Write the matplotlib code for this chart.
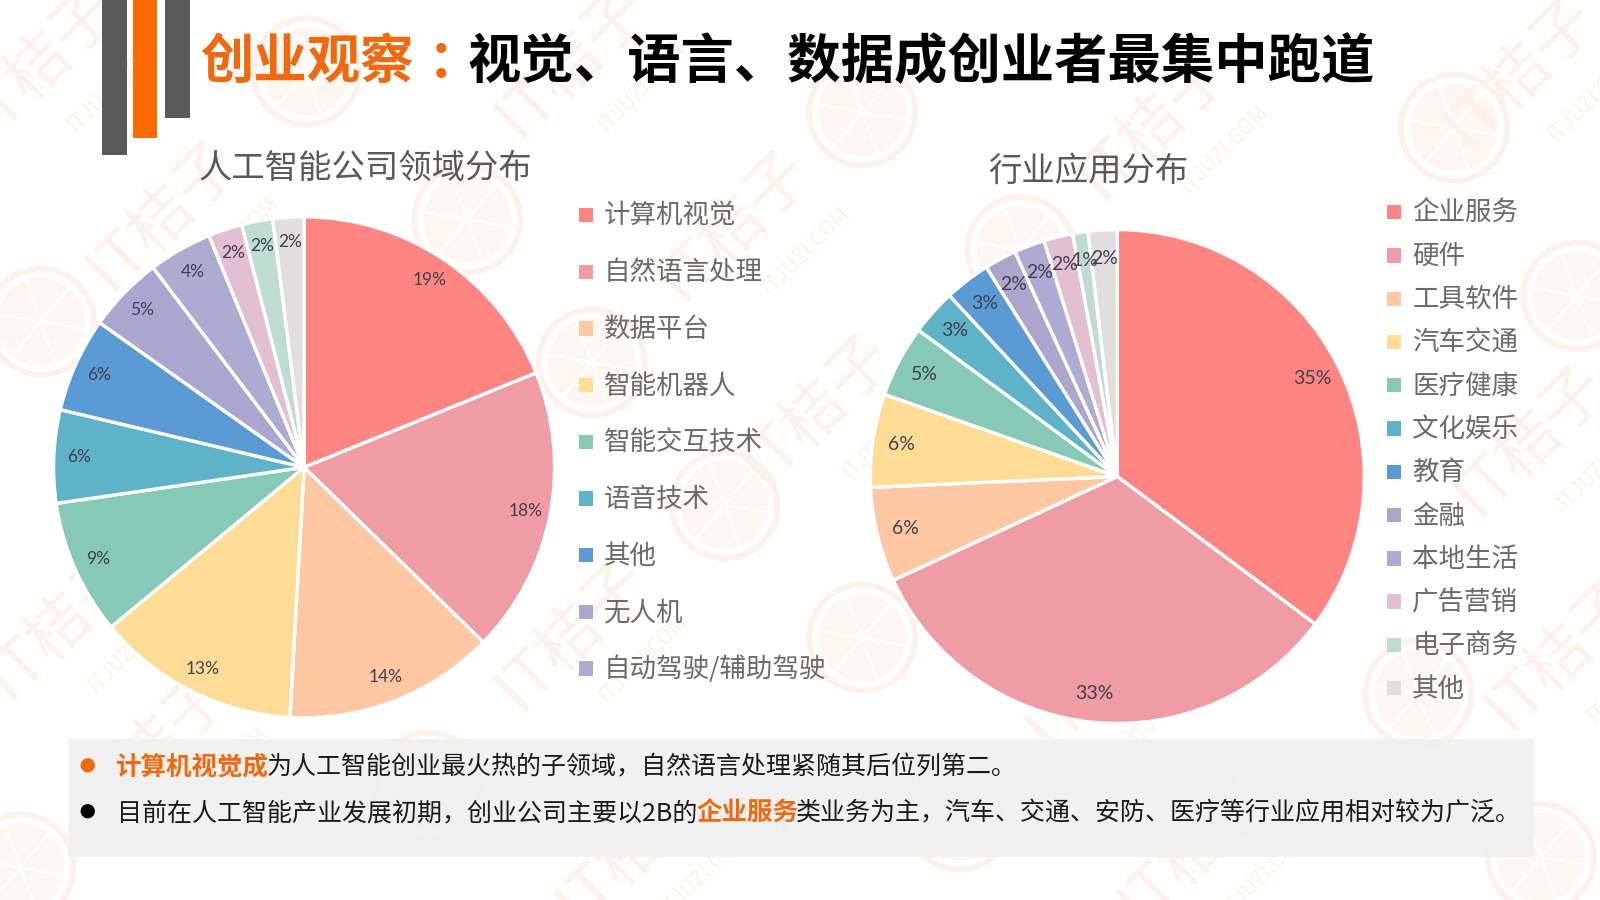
import numpy as np
import matplotlib
matplotlib.use("Agg")
import matplotlib.pyplot as plt
from matplotlib.patches import Rectangle, Circle

plt.rcParams['font.family'] = ['Noto Sans CJK SC', 'DejaVu Sans']

# left pie
field_labels = ['计算机视觉', '自然语言处理', '数据平台', '智能机器人', '智能交互技术', '语音技术', '其他', '无人机', '自动驾驶/辅助驾驶']
field_values = [18.85, 18.45, 13.6, 13.1, 8.7, 6.0, 6.1, 4.9, 4.1, 2.2, 2.0, 2.0]
field_colors = ['#FF8583', '#F09CA4', '#FFC8A2', '#FFDC96', '#85C9B6', '#5FB3C8', '#5B9BD5',
                '#A9A6D0', '#AEABD3', '#E2BFD2', '#BEDDD0', '#E2DEDE']

# right pie
industry_labels = ['企业服务', '硬件', '工具软件', '汽车交通', '医疗健康', '文化娱乐', '教育', '金融', '本地生活', '广告营销', '电子商务', '其他']
industry_values = [35.2, 32.9, 6.2, 6.1, 4.7, 3.0, 3.0, 2.1, 2.0, 1.9, 1.0, 1.9]
industry_colors = ['#FF8583', '#F09CA4', '#FFC8A2', '#FFDC96', '#85C9B6', '#5FB3C8', '#5B9BD5',
                   '#ACA5CC', '#AEABD3', '#E2BFD2', '#BEDDD0', '#E2DEDE']

# watermark spots, in the same units as the overlay below
logo_spots = [(300, 70), (845, 110), (1425, 125), (458, 215), (1000, 245), (40, 315), (580, 355),
              (1545, 290), (1130, 385), (160, 455), (710, 495), (1270, 530), (290, 600), (845, 625),
              (1390, 680), (420, 770), (940, 800), (1510, 840), (20, 850)]
brand_spots = [(40, 60), (560, 60), (1130, 120), (160, 210), (720, 220), (1490, 70), (420, 470),
               (800, 400), (1180, 340), (1500, 430), (60, 610), (560, 620), (1080, 660), (150, 730),
               (620, 830), (1170, 830), (1530, 640)]

W, H = 1568, 882  # overlay units
WM = '#FDF1E8'


def draw_pie(fig, cx, cy, r, values, colors, fontsize, pct_dist):
    ax = fig.add_axes([(cx - r) / W, 1 - (cy + r) / H, 2 * r / W, 2 * r / H], zorder=1)
    wedges, _, pcts = ax.pie(values, colors=colors, startangle=90, counterclock=False,
                             autopct='%.0f%%', pctdistance=pct_dist,
                             wedgeprops={'edgecolor': 'white', 'linewidth': 2.4})
    ax.set_xlim(-1, 1)
    ax.set_ylim(-1, 1)
    for w in wedges:
        w.set_clip_on(False)
    for t in pcts:
        t.set_fontsize(fontsize)
        t.set_color('#404050')
        t.set_family(['Lato', 'DejaVu Sans'])
    return ax


def draw_legend(ax, labels, colors, x, y0, step):
    for i, label in enumerate(labels):
        y = y0 + i * step
        ax.add_patch(Rectangle((x - 7, y - 7), 14, 14, color=colors[i], lw=0))
        ax.text(x + 18, y + 1, label, fontsize=19.1, color='#6A6A6A', va='center', ha='left')


def main():
    fig = plt.figure(figsize=(16, 9), dpi=100, facecolor='white')

    bg = fig.add_axes([0, 0, 1, 1], zorder=0)
    bg.set_xlim(0, W)
    bg.set_ylim(H, 0)
    bg.axis('off')

    for x, y in logo_spots:
        bg.add_patch(Circle((x, y), 52, fill=False, ec=WM, lw=4))
        bg.add_patch(Circle((x, y), 43, color='#FEF6F0', lw=0))
        for a in np.deg2rad(np.arange(10, 370, 60)):
            bg.plot([x, x + 43 * np.cos(a)], [y, y + 43 * np.sin(a)], color='white', lw=2)
    for x, y in brand_spots:
        bg.text(x, y, 'IT桔子', fontsize=46, color=WM, rotation=45, ha='center', va='center')
        bg.text(x + 70, y + 25, 'ITJUZI.COM', fontsize=15, color=WM, rotation=45, ha='center', va='center')

    draw_pie(fig, 298, 458, 245.5, field_values, field_colors, 12.5, 0.9)
    draw_pie(fig, 1095, 467, 242, industry_values, industry_colors, 14, 0.885)

    fg = fig.add_axes([0, 0, 1, 1], zorder=2)
    fg.set_xlim(0, W)
    fg.set_ylim(H, 0)
    fg.axis('off')

    # side bars
    fg.add_patch(Rectangle((100, 0), 24, 152, color='#595959', lw=0))
    fg.add_patch(Rectangle((130, 0), 24, 135, color='#FF6A00', lw=0))
    fg.add_patch(Rectangle((162, 0), 24, 116, color='#595959', lw=0))

    # heading
    fg.text(196, 61, '创业观察', fontsize=38.4, weight='bold', color='#F0690F', va='center')
    fg.text(419, 61, '：', fontsize=38.4, weight='bold', color='#F0690F', va='center')
    fg.text(458, 61, '视觉、语言、数据成创业者最集中跑道', fontsize=38.4, weight='bold', color='black', va='center')

    fg.text(358, 165, '人工智能公司领域分布', fontsize=24, color='#595959', ha='center', va='center')
    fg.text(1067, 168, '行业应用分布', fontsize=24, color='#595959', ha='center', va='center')

    draw_legend(fg, field_labels, field_colors, 574, 211, 55.5)
    draw_legend(fg, industry_labels, industry_colors, 1366, 208, 42.4)

    # note box
    fg.add_patch(Rectangle((67, 724), 1436, 116, color='#F0F0F0', alpha=0.93, lw=0))
    fg.add_patch(Circle((86, 750), 7, color='#F0690F', lw=0))
    fg.add_patch(Circle((86, 795), 7, color='black', lw=0))
    fg.text(114, 752, '计算机视觉成', fontsize=18.4, weight='bold', color='#F0690F', va='center')
    fg.text(261, 752, '为人工智能创业最火热的子领域，自然语言处理紧随其后位列第二。', fontsize=18, color='#1A1A1A', va='center')
    fg.text(115, 797, '目前在人工智能产业发展初期，创业公司主要以2B的', fontsize=18, color='#1A1A1A', va='center')
    fg.text(683, 797, '企业服务', fontsize=18.4, weight='bold', color='#F0690F', va='center')
    fg.text(780, 797, '类业务为主，汽车、交通、安防、医疗等行业应用相对较为广泛。', fontsize=18, color='#1A1A1A', va='center')

    fig.savefig('out.png', dpi=100)
    plt.close(fig)


if __name__ == "__main__":
    main()
